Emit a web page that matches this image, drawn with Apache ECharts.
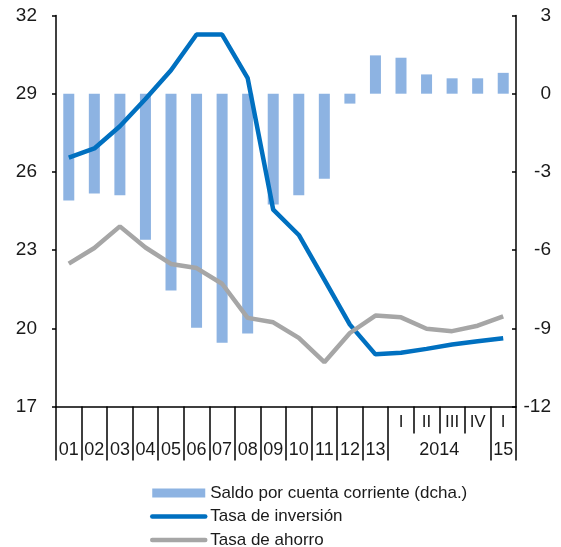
<!DOCTYPE html>
<html>
<head>
<meta charset="utf-8">
<script src="https://cdn.jsdelivr.net/npm/echarts@6/dist/echarts.min.js"></script>
<style>
html,body{margin:0;padding:0;background:#fff;}
#chart{width:561px;height:547px;}
</style>
</head>
<body>
<div id="chart"></div>
<script>
var categories = ['01','02','03','04','05','06','07','08','09','10','11','12','13','2014 I','2014 II','2014 III','2014 IV','2015 I'];
var yearLabels = ['01','02','03','04','05','06','07','08','09','10','11','12','13','','2014','','','15'];
var quarterLabels = ['','','','','','','','','','','','','','I','II','III','IV','I'];
var saldo = [-4.1,-3.83,-3.9,-5.6,-7.55,-8.98,-9.55,-9.2,-4.25,-3.9,-3.26,-0.38,1.47,1.38,0.74,0.59,0.59,0.8];
var inversion = [26.55,26.9,27.75,28.8,29.9,31.27,31.27,29.6,24.55,23.58,21.87,20.14,19.0,19.06,19.21,19.38,19.5,19.62];
var ahorro = [22.48,23.08,23.91,23.1,22.47,22.31,21.71,20.4,20.23,19.63,18.7,19.82,20.49,20.42,19.98,19.89,20.1,20.46];
var leftTicks = [17,32,3];
var rightTicks = [-12,3,3];

var FONT = 'Liberation Sans';
var TXT = '#1a1a1a';
var hiddenSym = {color:'rgba(0,0,0,0)', borderColor:'rgba(0,0,0,0)', borderWidth:0};
var chart = echarts.init(document.getElementById('chart'));
chart.setOption({
  animation:false,
  textStyle:{fontFamily:FONT},
  grid:{left:56,right:45,top:15.5,bottom:140.5,containLabel:false},
  legend:{
    orient:'vertical', left:150, top:483, height:90, padding:0,
    itemWidth:53, itemHeight:9, itemGap:3.5,
    textStyle:{fontFamily:FONT,fontSize:17,color:TXT,lineHeight:20},
    data:[
      {name:'Saldo por cuenta corriente (dcha.)', icon:'rect'},
      {name:'Tasa de inversión', lineStyle:{width:4.5,cap:'round'}, itemStyle:hiddenSym},
      {name:'Tasa de ahorro', lineStyle:{width:4.5,cap:'round'}, itemStyle:hiddenSym}
    ]
  },
  xAxis:[
    {type:'category', data:categories, position:'bottom',
     axisLine:{show:true,onZero:false,lineStyle:{color:'#000',width:1.5}},
     axisTick:{show:true,length:54,interval:function(i){return i<=13||i===17;},lineStyle:{color:'#000',width:1.5}},
     axisLabel:{interval:0,margin:35,fontSize:18,color:TXT,fontFamily:FONT,
       formatter:function(v,i){return i===14?'{y|2014}':yearLabels[i];},
       rich:{y:{fontSize:18,fontFamily:FONT,color:TXT,padding:[0,0,0,25.5]}}},
     splitLine:{show:false}},
    {type:'category', data:categories, position:'bottom',
     axisLine:{show:false,onZero:false},
     axisTick:{show:true,length:27,interval:function(i){return i>=14&&i<=16;},lineStyle:{color:'#000',width:1.5}},
     axisLabel:{interval:0,margin:7,fontSize:17,color:TXT,fontFamily:FONT,
       formatter:function(v,i){return quarterLabels[i];}},
     splitLine:{show:false}}
  ],
  yAxis:[
    {type:'value', min:leftTicks[0], max:leftTicks[1], interval:leftTicks[2], position:'left',
     axisLine:{show:true,lineStyle:{color:'#000',width:1.5}},
     axisTick:{show:true,length:4,lineStyle:{color:'#000',width:1.5}},
     axisLabel:{margin:19,fontSize:19,color:TXT,fontFamily:FONT},
     splitLine:{show:false}},
    {type:'value', min:rightTicks[0], max:rightTicks[1], interval:rightTicks[2], position:'right',
     axisLine:{show:true,lineStyle:{color:'#000',width:1.5}},
     axisTick:{show:true,inside:true,length:4,lineStyle:{color:'#000',width:1.5}},
     axisLabel:{margin:35,align:'right',fontSize:19,color:TXT,fontFamily:FONT},
     splitLine:{show:false}}
  ],
  series:[
    {name:'Saldo por cuenta corriente (dcha.)', type:'bar', xAxisIndex:0, yAxisIndex:1,
     data:saldo, barWidth:11, itemStyle:{color:'#8DB3E2'}},
    {name:'Tasa de inversión', type:'line', xAxisIndex:0, yAxisIndex:0, data:inversion,
     symbol:'none', showSymbol:false, lineStyle:{color:'#0070C0',width:4.5}, itemStyle:{color:'#0070C0'}, z:3},
    {name:'Tasa de ahorro', type:'line', xAxisIndex:0, yAxisIndex:0, data:ahorro,
     symbol:'none', showSymbol:false, lineStyle:{color:'#A6A6A6',width:4.5}, itemStyle:{color:'#A6A6A6'}, z:3}
  ]
});
</script>
</body>
</html>
